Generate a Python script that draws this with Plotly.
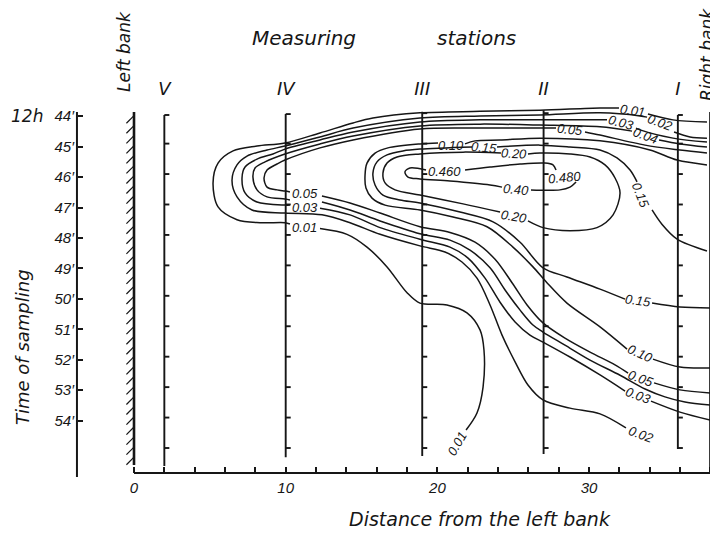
import plotly.graph_objects as go

INK = "#161616"
LFONT = "Liberation Sans"
TFONT = "DejaVu Sans"

# page body keeps an 8 px margin, so the figure is 8 px smaller than the window
FIG_W, FIG_H, PAGE_MARGIN = 710, 526, 8

# ---------------- scale / axes ----------------
X_RANGE = [-8.306, 38.497]      # distance from left bank (view window)
Y_RANGE = [57.725, 40.445]      # time (minutes after 12h), grows downward

distance_ticks = list(range(0, 39, 2))
distance_labels = [str(v) if v % 10 == 0 else "" for v in distance_ticks]
minute_ticks = list(range(44, 55))
minute_labels = [f"{m}\u2032" for m in minute_ticks]

x_axis_time = 55.72        # where the distance axis is drawn
y_axis_dist = -3.76        # where the time axis is drawn
y_axis_top, y_axis_bottom = 43.86, 55.85
station_label_time = 43.42

stations = ["V", "IV", "III", "II", "I"]
station_d = [2.0, 10.0, 19.0, 27.0, 35.85]
station_top = [43.96, 43.93, 43.85, 43.80, 43.96]
station_bottom = [55.49, 55.20, 55.16, 55.10, 54.93]
sample_minutes = list(range(44, 56))
sample_shift = -0.1

left_bank_d, right_bank_d = 0.0, 38.0
bank_top = 43.86
left_bank_bottom, right_bank_bottom = 55.46, 55.62

# ---------------- isolines (distance, time); None = gap at a label ----------------
c001_d = [37.77, 35.53, 33.88, None, 31.97, 30.72, 26.76, 22.81, 18.85, 15.75, 14.44, 12.26, 9.95, 8.11, 6.53, 5.54, 5.21, 5.54, 6.79, 8.31, 9.95, 10.28, None,
          12.26, 14.04, 15.36, 16.68, 18.00, 18.85, 20.63, 21.95, 22.81, 23.07, 23.01, 22.61, 21.89]
c001_t = [44.19, 44.12, 43.93, None, 43.73, 43.73, 43.80, 43.84, 43.89, 44.06, 44.22, 44.55, 44.88, 44.98, 45.14, 45.54, 46.19, 46.98, 47.40, 47.50, 47.50, 47.54, None,
          47.69, 47.88, 48.30, 48.95, 49.80, 50.14, 50.20, 50.46, 51.02, 51.68, 52.90, 53.75, 54.31]

c002_d = [37.77, 36.65, 35.60, None, 33.82, 33.36, 30.72, 26.76, 22.81, 18.85, 14.44, 12.26, 9.95, 8.77, 7.45, 6.79, 6.46, 6.79, 7.78, 9.95, 12.39, 14.24, 16.22,
          18.85, 20.50, 21.62, 22.61, 23.47, 24.26, 25.12, 25.97, 26.96, 28.74, 30.72, 32.43]
c002_t = [44.72, 44.68, 44.52, None, 44.03, 43.99, 43.89, 43.96, 43.99, 44.06, 44.39, 44.68, 44.98, 45.11, 45.31, 45.60, 46.10, 46.65, 47.08, 47.18, 47.24, 47.50, 47.88,
          48.26, 48.46, 48.79, 49.32, 50.20, 51.19, 52.07, 52.83, 53.32, 53.59, 53.78, 54.24]

c003_d = [37.77, 35.53, 33.36, 33.09, None, 31.18, 30.72, 26.76, 22.81, 18.85, 14.44, 12.26, 9.95, 9.16, 8.11, 7.32, 7.12, 7.32, 8.11, 9.95, 10.28, None,
          12.26, 14.24, 16.22, 18.85, 20.83, 22.02, 23.14, 24.13, 25.12, 26.10, 26.96, 28.74, 30.72, 32.37, None, 34.08, 35.99, 37.97]
c003_t = [44.85, 44.72, 44.45, 44.39, None, 44.12, 44.12, 44.12, 44.12, 44.19, 44.52, 44.78, 45.08, 45.24, 45.41, 45.67, 46.03, 46.52, 46.82, 46.92, 46.92, None,
          47.02, 47.24, 47.66, 48.04, 48.30, 48.66, 49.32, 50.11, 50.76, 51.19, 51.42, 51.91, 52.50, 53.03, None, 53.36, 53.72, 53.98]

c004_d = [37.77, 35.99, 34.61, None, 32.83, 30.72, 26.76, 22.81, 18.85, 14.44, 12.26, 9.95, 8.64, 7.98, 7.84, 8.11, 8.77, 9.95, 10.28, None,
          12.39, 14.24, 16.22, 18.85, 20.83, 22.15, 23.47, 24.46, 25.45, 26.30, 26.96, 28.41, 30.06, 32.04, 33.69, 35.00, 36.32, 37.97]
c004_t = [45.01, 44.91, 44.78, None, 44.49, 44.35, 44.29, 44.26, 44.32, 44.65, 44.91, 45.24, 45.50, 45.70, 46.00, 46.42, 46.65, 46.72, 46.75, None,
          46.82, 47.08, 47.44, 47.86, 48.07, 48.40, 48.98, 49.71, 50.37, 50.86, 51.09, 51.52, 52.01, 52.51, 52.96, 53.22, 53.39, 53.49]

c005_d = [37.77, 35.99, 33.69, 30.72, 29.73, None, 27.82, 26.76, 22.81, 18.85, 14.44, 12.26, 9.95, 9.43, 8.77, 8.57, 8.77, 9.43, 9.95, 10.28, None,
          12.39, 14.24, 16.22, 18.85, 20.83, 22.48, 23.80, 24.92, 25.91, 26.96, 28.41, 30.06, 31.71, 32.57, None, 34.28, 35.99, 37.97]
c005_t = [45.21, 45.11, 44.95, 44.62, 44.52, None, 44.39, 44.39, 44.39, 44.42, 44.78, 45.04, 45.44, 45.57, 45.77, 46.03, 46.33, 46.42, 46.46, 46.49, None,
          46.62, 46.85, 47.18, 47.63, 47.82, 48.14, 48.70, 49.47, 50.20, 50.79, 51.29, 51.75, 52.17, 52.44, None, 52.76, 52.99, 53.09]

c010_d = [37.77, 35.80, 34.01, 30.72, 26.76, 24.13, 22.48, 21.82, None, 20.04, 18.85, 16.74, 15.89, 15.36, 15.23, 15.29, 15.69, 16.55, 18.85, 21.03, 23.27,
          24.98, 26.30, 27.22, 28.54, 30.72, 32.50, None, 34.21, 35.99, 37.97]
c010_t = [45.60, 45.44, 45.11, 44.81, 44.72, 44.78, 44.81, 44.91, None, 44.88, 44.91, 45.04, 45.21, 45.54, 45.93, 46.36, 46.69, 46.92, 47.08, 47.31, 47.63,
          48.30, 48.95, 49.47, 50.14, 50.92, 51.65, None, 51.98, 52.24, 52.27]

c015_d = [37.77, 35.80, 34.80, 34.15, None, 33.16, 32.70, 31.84, 30.72, 28.74, 26.76, 23.93, None, 22.28, 18.85, 17.73, 16.68, 16.02, 15.75, 15.89, 16.41,
          17.53, 18.85, 21.49, 23.67, 25.45, 26.96, 28.54, 30.72, 32.37, None, 34.15, 35.99, 37.97]
c015_t = [48.43, 48.04, 47.55, 47.08, None, 46.16, 45.77, 45.37, 45.11, 45.01, 44.95, 45.01, None, 45.01, 45.08, 45.14, 45.27, 45.50, 45.87, 46.26, 46.59,
          46.75, 46.85, 47.15, 47.47, 48.14, 48.98, 49.28, 49.68, 50.01, None, 50.14, 50.27, 50.30]

c020_d = [25.97, 26.76, 28.74, 30.06, 31.05, 31.71, 32.04, 31.58, 30.52, 28.74, 26.96, 25.97, None, 24.13, 21.69, 18.85, 17.21, 16.55, 16.41, 16.68, 17.34,
          18.85, 21.69, 24.19]
c020_t = [45.24, 45.21, 45.24, 45.34, 45.60, 46.03, 46.52, 47.24, 47.66, 47.76, 47.66, 47.44, None, 47.15, 46.88, 46.59, 46.42, 46.19, 45.87, 45.54, 45.34,
          45.24, 45.18, 45.21]

c040_d = [21.82, 23.47, 25.45, 27.09, 27.62, 27.82, None, 19.25, 18.19, 17.86, 18.06, 18.85, 20.83, 23.47, 24.26, None, 26.17, 28.08, 28.74, 29.14]
c040_t = [45.77, 45.67, 45.57, 45.54, 45.60, 45.77, None, 45.77, 45.70, 45.83, 46.00, 46.06, 46.13, 46.26, 46.33, None, 46.42, 46.42, 46.33, 46.16]

# ---------------- isoline labels ----------------
label_text = ["0.05", "0.03", "0.01", "0.10", "0.15", "0.20", "0.460", "0.40", "0.20", "0.480",
              "0.01", "0.02", "0.03", "0.04", "0.05", "0.15", "0.15", "0.10", "0.05", "0.03", "0.02", "0.01"]
label_d = [11.27, 11.27, 11.27, 20.90, 23.07, 25.05, 20.50, 25.18, 25.05, 28.35,
           32.89, 34.67, 32.10, 33.69, 28.74, 33.42, 33.22, 33.36, 33.42, 33.22, 33.42, 21.29]
label_t = [46.53, 46.99, 47.66, 44.95, 45.04, 45.24, 45.83, 46.42, 47.28, 46.00,
           43.80, 44.22, 44.22, 44.62, 44.45, 46.59, 50.07, 51.81, 52.60, 53.19, 54.47, 54.74]
label_angle = [0, 0, 0, 0, 5, 3, 0, 5, 10, -5,
               8, 20, 15, 20, 6, 68, 8, 24, 20, 20, 20, -60]

isolines = [(c001_d, c001_t), (c002_d, c002_t), (c003_d, c003_t), (c004_d, c004_t), (c005_d, c005_t),
            (c010_d, c010_t), (c015_d, c015_t), (c020_d, c020_t), (c040_d, c040_t)]


def xpaper(d):
    return (d - X_RANGE[0]) / (X_RANGE[1] - X_RANGE[0])


def ypaper(t):
    return (Y_RANGE[0] - t) / (Y_RANGE[0] - Y_RANGE[1])


def px_x(px):   # window pixel -> paper fraction
    return (px - PAGE_MARGIN) / FIG_W


def px_y(py):
    return 1 - (py - PAGE_MARGIN) / FIG_H


fig = go.Figure()

for xs, ys in isolines:
    fig.add_trace(go.Scatter(x=xs, y=ys, mode="lines", connectgaps=False, hoverinfo="skip", showlegend=False,
                             line=dict(color=INK, width=1.5, shape="spline", smoothing=0.9)))

# station verticals with their sampling ticks (drawn on the station axis)
sx, sy = [], []
for d, top, bot in zip(station_d, station_top, station_bottom):
    sx += [d, d, None]
    sy += [top, bot, None]
    for m in sample_minutes:
        tt = m + sample_shift
        if top - 0.2 <= tt <= bot:
            tt = max(tt, top)
            sx += [d, d + 0.33, None]
            sy += [tt, tt, None]
fig.add_trace(go.Scatter(x=sx, y=sy, xaxis="x2", mode="lines", hoverinfo="skip", showlegend=False,
                         line=dict(color=INK, width=1.9)))

# river banks with hatching
bx = [left_bank_d, left_bank_d, None, right_bank_d, right_bank_d, None]
by = [bank_top, left_bank_bottom, None, bank_top, right_bank_bottom, None]
fig.add_trace(go.Scatter(x=bx, y=by, mode="lines", hoverinfo="skip", showlegend=False,
                         line=dict(color=INK, width=2.6)))
hx, hy = [], []
t = bank_top + 0.12
while t < left_bank_bottom - 0.1:
    hx += [left_bank_d, left_bank_d - 0.5, None]
    hy += [t, t + 0.25, None]
    t += 0.33
t = bank_top + 0.3
while t < right_bank_bottom + 0.05:
    hx += [right_bank_d, right_bank_d + 0.55, None]
    hy += [t, t - 0.27, None]
    t += 0.33
fig.add_trace(go.Scatter(x=hx, y=hy, mode="lines", hoverinfo="skip", showlegend=False,
                         line=dict(color=INK, width=1.2)))

# axis lines
fig.add_shape(type="line", xref="x", yref="y", x0=0, x1=38, y0=x_axis_time, y1=x_axis_time,
              line=dict(color=INK, width=2))
fig.add_shape(type="line", xref="x", yref="y", x0=y_axis_dist, x1=y_axis_dist, y0=y_axis_top, y1=y_axis_bottom,
              line=dict(color=INK, width=2))

# isoline labels
for txt, d, tt, ang in zip(label_text, label_d, label_t, label_angle):
    fig.add_annotation(x=d, y=tt, xref="x", yref="y", text=txt, showarrow=False, textangle=ang,
                       xanchor="center", yanchor="middle",
                       font=dict(family=LFONT, size=13, color=INK, style="italic"))


def note(text, x, y, size, angle=0, xref="paper", yref="paper"):
    fig.add_annotation(x=x, y=y, xref=xref, yref=yref, text=text, showarrow=False, textangle=angle,
                       xanchor="center", yanchor="middle",
                       font=dict(family=TFONT, size=size, color=INK, style="italic"))


note("Measuring", px_x(304), px_y(38), 20)
note("stations", px_x(476), px_y(38), 20)
note("Left bank", px_x(124), px_y(52), 17, -90)
note("Right bank", px_x(707), px_y(55), 17, -90)
note("Time of sampling", px_x(22), px_y(347), 18, -90)
note("Distance from the left bank", px_x(480), px_y(519), 19)
note("12h", px_x(27), 44, 17, 0, "paper", "y")

fig.update_layout(
    width=FIG_W, height=FIG_H, autosize=False,
    margin=dict(l=0, r=0, t=0, b=0),
    paper_bgcolor="white", plot_bgcolor="white",
    showlegend=False,
    xaxis=dict(range=X_RANGE, domain=[0, 1], anchor="free", position=ypaper(x_axis_time),
               showgrid=False, zeroline=False, showline=False,
               tickmode="array", tickvals=distance_ticks, ticktext=distance_labels,
               ticks="inside", ticklen=6, tickwidth=1.5, tickcolor=INK, ticklabelstandoff=4,
               tickfont=dict(family=LFONT, size=15, color=INK, style="italic")),
    xaxis2=dict(range=X_RANGE, overlaying="x", side="top", anchor="free", position=ypaper(station_label_time),
                showgrid=False, zeroline=False, showline=False, ticks="",
                tickmode="array", tickvals=station_d, ticktext=stations,
                tickfont=dict(family=TFONT, size=18, color=INK, style="italic")),
    yaxis=dict(range=Y_RANGE, domain=[0, 1], anchor="free", position=xpaper(y_axis_dist),
               showgrid=False, zeroline=False, showline=False,
               tickmode="array", tickvals=minute_ticks, ticktext=minute_labels,
               ticks="inside", ticklen=5, tickwidth=1.5, tickcolor=INK, ticklabelstandoff=3,
               tickfont=dict(family=LFONT, size=15, color=INK, style="italic")),
)

fig.write_html("out.html")
